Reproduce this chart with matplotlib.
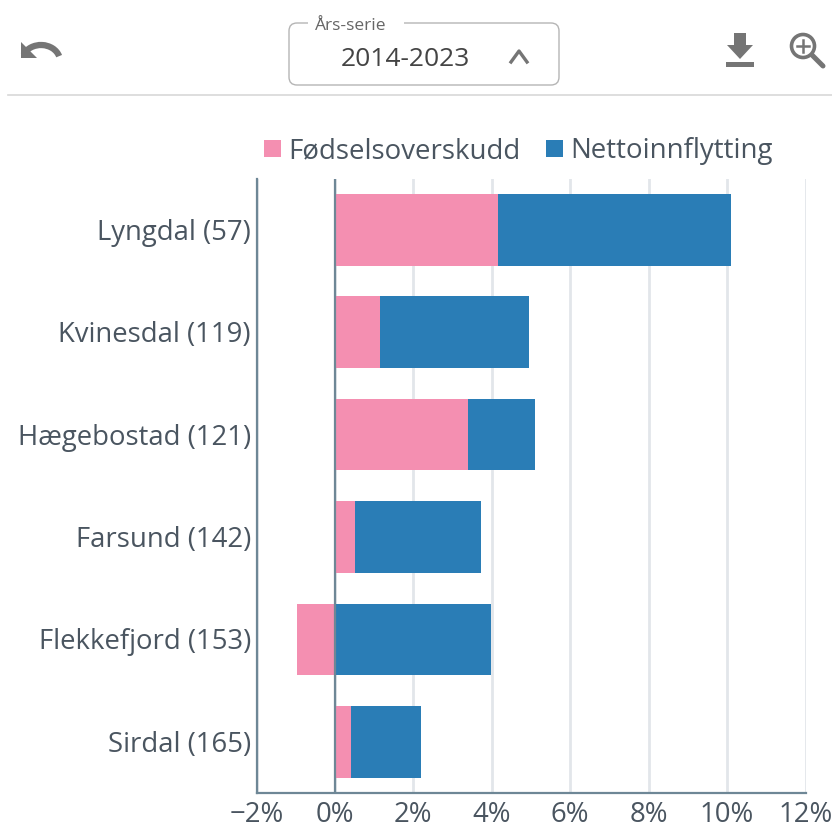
import matplotlib
matplotlib.use('Agg')
import matplotlib.pyplot as plt
from matplotlib.patches import FancyBboxPatch, Polygon, Circle, Rectangle, Arc
from matplotlib.transforms import Affine2D

plt.rcParams['font.family'] = ['Open Sans', 'DejaVu Sans']

W, H = 832, 828

# data
kommuner = ['Lyngdal (57)', 'Kvinesdal (119)', 'Hægebostad (121)', 'Farsund (142)', 'Flekkefjord (153)', 'Sirdal (165)']
fodsel = [4.15, 1.15, 3.4, 0.52, -0.97, 0.42]
netto = [5.95, 3.8, 1.7, 3.2, 3.98, 1.78]
xticks = [-2, 0, 2, 4, 6, 8, 10, 12]

pink = '#f48fb1'
blue = '#2a7db6'
axcol = '#6e8796'
textcol = '#4a5560'
gridcol = '#e2e6ea'
iconcol = '#757575'

fig = plt.figure(figsize=(W / 100, H / 100), dpi=100)

# the bar chart, axes placed in pixels
left, right, top, bottom = 256.5, 805.5, 179.5, 794
ax = fig.add_axes([left / W, 1 - bottom / H, (right - left) / W, (bottom - top) / H])

y = list(range(len(kommuner)))
bar_left = [max(f, 0) for f in fodsel]
ax.barh(y, fodsel, height=0.7, color=pink, zorder=3, label='Fødselsoverskudd')
ax.barh(y, netto, left=bar_left, height=0.7, color=blue, zorder=3, label='Nettoinnflytting')

ax.set_xlim(-2, 12)
ax.set_ylim(5.5, -0.5)
ax.set_xticks(xticks)
ax.set_xticklabels([('\u2212%d%%' % abs(v)) if v < 0 else '%d%%' % v for v in xticks],
                   fontsize=19.8, color=textcol)
ax.set_yticks(y)
ax.set_yticklabels(kommuner, fontsize=19.8, color=textcol)
ax.tick_params(axis='both', length=0)
ax.tick_params(axis='x', pad=4.8)
ax.tick_params(axis='y', pad=4)
# labels sit a little above the bar centres
for lab in ax.get_yticklabels():
    lab.set_transform(lab.get_transform() + Affine2D().translate(0, 1.5))
ax.grid(axis='x', color=gridcol, linewidth=2, zorder=0)
ax.axvline(0, color=axcol, linewidth=1.6, zorder=4)
for s in ['top', 'right']:
    ax.spines[s].set_visible(False)
for s in ['left', 'bottom']:
    ax.spines[s].set_color(axcol)
    ax.spines[s].set_linewidth(1.6)

# overlay in pixel coordinates for the toolbar and the legend
ov = fig.add_axes([0, 0, 1, 1], facecolor='none')
ov.set_xlim(0, W)
ov.set_ylim(H, 0)
ov.axis('off')

# legend
ov.add_patch(Rectangle((264, 141), 17, 17, color=pink, lw=0))
ov.text(288, 151, 'Fødselsoverskudd', fontsize=19.9, color=textcol, va='center')
ov.add_patch(Rectangle((546, 141), 17, 17, color=blue, lw=0))
ov.text(570.5, 151, 'Nettoinnflytting', fontsize=19.9, color=textcol, va='center')

# toolbar
ov.plot([8, 832], [96, 96], color='#d8d8d8', lw=1.2)
ov.add_patch(FancyBboxPatch((289, 24), 270, 62, boxstyle='round,pad=0,rounding_size=8',
                            fc='white', ec='#b5b5b5', lw=1))
ov.add_patch(Rectangle((308, 18), 96, 12, color='white', lw=0, zorder=3))
ov.text(315, 25.5, 'Års-serie', fontsize=12.5, color='#666666', va='center', zorder=4)
ov.text(405, 60, '2014-2023', fontsize=19, color='#444444', va='center', ha='center')
ov.plot([511, 519, 527], [63, 52, 63], color=iconcol, lw=2.4)

# undo icon
ov.add_patch(Polygon([(21, 43), (21, 59), (37, 59)], color=iconcol, lw=0))
ov.add_patch(Arc((41, 62), 38, 32, theta1=200, theta2=345, color=iconcol, lw=4.5))

# download icon
ov.add_patch(Polygon([(734, 34), (746, 34), (746, 46), (753, 46), (740, 60), (727, 46), (734, 46)],
                     color=iconcol, lw=0))
ov.add_patch(Rectangle((726, 63), 28, 4.5, color=iconcol, lw=0))

# zoom icon
ov.add_patch(Circle((803, 47), 11.5, fc='none', ec=iconcol, lw=2.6))
ov.plot([812, 823], [56, 67], color=iconcol, lw=3.6, solid_capstyle='round')
ov.plot([797, 809], [47, 47], color=iconcol, lw=1.8)
ov.plot([803, 803], [41, 53], color=iconcol, lw=1.8)

fig.savefig('out.png', dpi=100)
